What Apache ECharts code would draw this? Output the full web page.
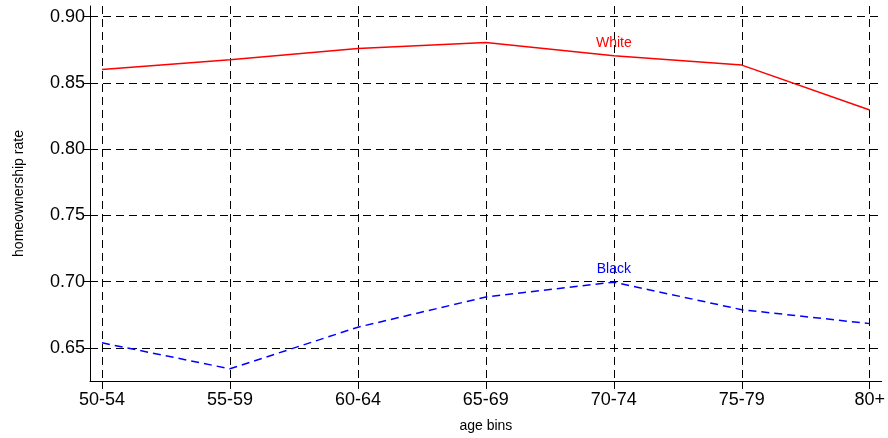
<!DOCTYPE html>
<html><head><meta charset="utf-8">
<script src="https://cdn.jsdelivr.net/npm/echarts@6/dist/echarts.min.js"></script>
<style>html,body{margin:0;padding:0;background:#fff}#c{width:888px;height:438px}</style>
</head><body><div id="c"></div>
<script>
const categories = ['50-54','55-59','60-64','65-69','70-74','75-79','80+'];
const white = [0.860, 0.8674, 0.8759, 0.8804, 0.8704, 0.8634, 0.8295];
const black = [0.6538, 0.6342, 0.6656, 0.6884, 0.6996, 0.6788, 0.6683];
const yTicks = [0.65, 0.70, 0.75, 0.80, 0.85, 0.90];
const labelIndex = 4;

const xIdx = categories.map((c, i) => i);
function mk(vals, name) {
  return vals.map((v, i) => {
    const item = { value: [i, v] };
    if (i === labelIndex) item.label = { show: true, formatter: name };
    return item;
  });
}
const font = 'Liberation Sans, Arial, Helvetica, sans-serif';
const chart = echarts.init(document.getElementById('c'), null, { renderer: 'canvas' });
chart.setOption({
  animation: false,
  grid: { left: 90, right: 6, top: 6, bottom: 56, containLabel: false },
  xAxis: {
    type: 'value', min: -0.09375, max: 6.09375,
    name: 'age bins', nameLocation: 'middle', nameGap: 38,
    nameTextStyle: { color: '#000', fontSize: 14, fontFamily: font },
    axisLine: { show: true, onZero: false, lineStyle: { color: '#000', width: 1 } },
    axisTick: { show: true, customValues: xIdx, length: 8, lineStyle: { color: '#000' } },
    axisLabel: { customValues: xIdx, color: '#000', fontSize: 18, fontFamily: font, margin: 10,
      formatter: v => categories[Math.round(v)] },
    splitLine: { show: true, lineStyle: { color: '#000', type: [8, 5], width: 1 } }
  },
  yAxis: {
    type: 'value', min: 0.625, max: 0.908,
    name: 'homeownership rate', nameLocation: 'middle', nameGap: 64, nameRotate: 90,
    nameTextStyle: { color: '#000', fontSize: 14, fontFamily: font },
    axisLine: { show: true, onZero: false, lineStyle: { color: '#000', width: 1 } },
    axisTick: { show: true, customValues: yTicks, length: 7, lineStyle: { color: '#000' } },
    axisLabel: { customValues: yTicks, color: '#000', fontSize: 18, fontFamily: font, margin: 5,
      formatter: v => v.toFixed(2) },
    splitLine: { show: true, lineStyle: { color: '#000', type: [8, 5], width: 1 } }
  },
  series: [
    { name: 'White', type: 'line', data: mk(white, 'White'), symbol: 'circle', symbolSize: 2, showSymbol: true,
      itemStyle: { color: 'rgba(0,0,0,0)', borderWidth: 0 },
      lineStyle: { color: '#ff0000', width: 1.5 },
      label: { position: 'top', color: '#ff0000', fontSize: 14, fontFamily: font, distance: 5 } },
    { name: 'Black', type: 'line', data: mk(black, 'Black'), symbol: 'circle', symbolSize: 2, showSymbol: true,
      itemStyle: { color: 'rgba(0,0,0,0)', borderWidth: 0 },
      lineStyle: { color: '#0000ff', width: 1.5, type: [8, 5] },
      label: { position: 'top', color: '#0000ff', fontSize: 14, fontFamily: font, distance: 5 } }
  ]
});
</script></body></html>
